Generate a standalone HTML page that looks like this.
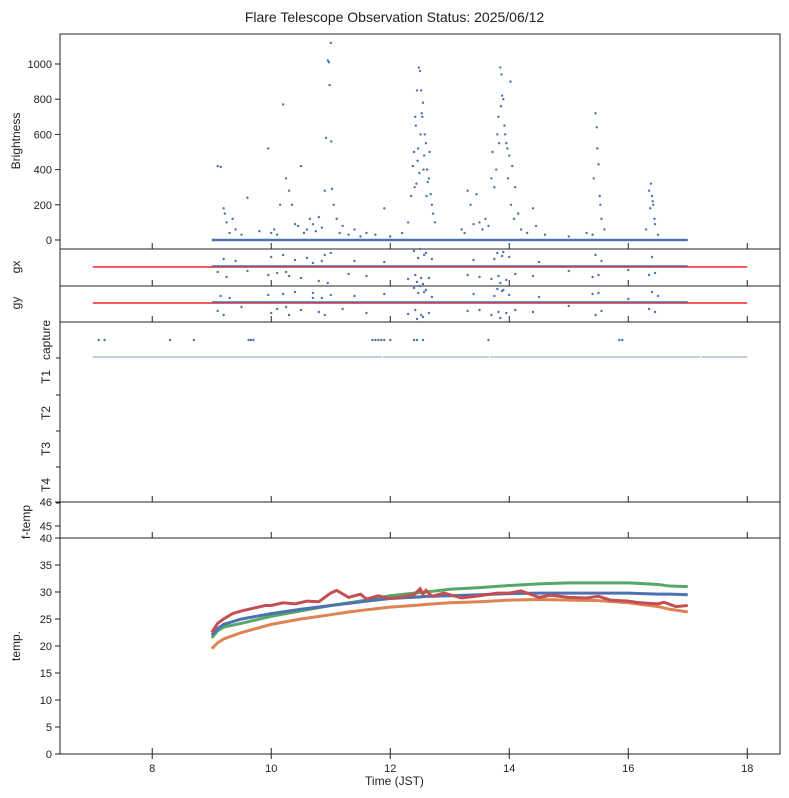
<!DOCTYPE html>
<html><head><meta charset="utf-8"><style>
body{margin:0;background:#fff;}
svg{display:block;font-family:"Liberation Sans",sans-serif;}
</style></head><body>
<svg id="c" width="789" height="798"></svg>
<script>
const NS="http://www.w3.org/2000/svg";
// ---- data ----
const xTicks=[8,10,12,14,16,18];
const brightTicks=[0,200,400,600,800,1000];
const tempTicks=[0,5,10,15,20,25,30,35,40];
const baseStart=9.0, baseEnd=17.0;
const brightT=[9.1,9.15,9.2,9.22,9.25,9.3,9.35,9.4,9.6,9.95,10.0,10.15,10.2,10.25,10.3,10.35,10.4,10.5,10.6,10.7,10.8,10.9,10.92,10.95,10.97,11.0,10.98,11.01,11.02,11.05,11.1,11.2,11.4,11.6,11.9,12.3,12.35,12.38,12.4,12.42,12.45,12.48,12.5,12.52,12.55,12.58,12.6,12.62,12.65,12.7,12.75,12.41,12.46,12.51,12.56,12.61,12.66,12.44,12.49,12.54,13.3,13.35,13.45,13.5,13.6,13.7,13.72,13.75,13.8,13.85,13.87,13.9,13.92,13.95,14.0,14.02,14.05,14.1,14.15,13.82,13.88,13.97,14.4,14.45,15.4,15.45,15.47,15.5,15.52,15.55,15.6,16.35,16.38,16.4,16.42,16.45,16.5,
9.5,9.8,10.05,10.1,10.45,10.55,10.65,10.75,10.85,11.15,11.3,11.5,11.75,12.0,12.2,12.43,12.47,12.53,12.57,12.63,12.68,12.72,13.2,13.25,13.4,13.55,13.65,13.78,13.83,13.86,13.93,13.98,14.03,14.08,14.2,14.3,14.6,15.0,15.3,15.42,15.48,15.53,16.3,16.37,16.41,16.44];
const brightV=[420,415,180,150,100,40,120,60,240,520,40,200,770,350,280,200,90,420,60,90,130,280,580,1020,1010,1120,880,560,290,200,120,80,60,40,180,100,250,420,500,700,850,980,960,850,780,600,550,400,350,200,100,300,450,600,400,250,500,320,380,700,280,200,260,100,120,350,500,300,600,980,940,800,650,550,480,900,420,300,150,700,820,520,180,80,30,720,640,430,250,120,60,280,320,250,200,90,30,
30,50,60,30,80,40,120,50,70,40,30,20,30,20,40,650,520,720,480,330,260,150,60,40,90,60,80,400,550,760,600,350,200,120,60,40,30,20,40,350,520,200,60,180,220,120];
const gxT=[9.1,9.2,9.25,9.4,9.6,9.95,10.0,10.1,10.2,10.3,10.4,10.5,10.6,10.8,10.9,10.95,11.0,11.3,11.4,11.6,11.9,12.3,12.4,12.45,12.5,12.55,12.6,12.65,12.7,13.3,13.4,13.5,13.7,13.8,13.85,13.9,13.95,14.0,14.1,14.4,14.5,15.0,15.4,15.45,15.5,15.55,16.0,16.35,16.4,16.45,10.85,12.42,12.47,12.52,12.57,13.75,13.82,13.88,10.25,10.7];
const gxV=[5,-8,10,-6,4,8,-10,6,-12,9,-7,11,-9,14,-12,16,-14,7,-6,9,-5,12,-16,15,-18,17,-14,11,-8,8,-7,10,12,-14,16,-15,13,-10,7,9,-5,4,10,-12,8,-6,3,8,-10,6,-6,8,-9,11,-12,-8,9,-11,5,-4];
const gyT=[9.1,9.15,9.2,9.3,9.5,9.95,10.0,10.1,10.2,10.3,10.4,10.5,10.7,10.8,10.9,11.0,11.2,11.4,11.6,11.9,12.3,12.4,12.45,12.5,12.55,12.6,12.65,12.7,13.3,13.4,13.5,13.7,13.8,13.85,13.9,13.95,14.0,14.1,14.4,14.5,15.0,15.4,15.45,15.5,15.55,16.0,16.35,16.4,16.45,16.5,10.85,12.42,12.47,12.52,12.57,13.75,13.82,13.88,10.25,10.7];
const gyV=[8,-7,12,-5,4,-8,10,6,-9,12,-11,7,-10,9,12,-8,6,-7,10,-9,11,-15,16,-17,14,-13,10,-6,8,-9,7,12,-14,15,-13,10,-8,7,9,-6,3,-9,12,-10,8,-4,6,-11,9,-7,-5,7,-10,12,-11,-7,9,-12,4,-5];
const capT=[7.1,7.2,8.3,8.7,9.62,9.66,9.7,11.7,11.75,11.8,11.85,11.9,12.0,12.4,12.45,12.55,13.65,15.85,15.9];
const capSegStart=[7.0,11.88,13.68,17.23];
const capSegEnd=[11.86,13.66,17.21,18.0];
const tempTime=[9.0,9.1,9.2,9.5,10,10.5,11,11.3,11.6,12,12.5,12.6,13,13.5,14,14.5,15,15.5,16,16.5,16.7,17.0];
const tBlue=[22,23.2,24,25,26,26.8,27.5,27.9,28.3,28.8,29.1,29.2,29.3,29.5,29.7,29.8,29.8,29.8,29.8,29.6,29.6,29.5];
const tGreen=[21.5,22.8,23.5,24.2,25.5,26.5,27.5,28,28.5,29.3,29.9,30,30.5,30.8,31.2,31.5,31.7,31.7,31.7,31.4,31.1,31];
const tOrange=[19.5,20.6,21.3,22.5,24,25,25.8,26.3,26.7,27.2,27.6,27.7,28,28.2,28.5,28.6,28.5,28.4,28,27.3,26.8,26.3];
const tRedT=[9.0,9.1,9.2,9.35,9.5,9.7,9.9,10,10.2,10.4,10.6,10.8,11,11.1,11.3,11.5,11.6,11.8,12,12.2,12.4,12.5,12.55,12.6,12.7,12.9,13,13.2,13.5,13.8,14,14.2,14.4,14.5,14.7,15,15.3,15.5,15.7,16,16.2,16.5,16.6,16.8,17.0];
const tRed=[22.5,24.2,25,26,26.5,27,27.5,27.5,28,27.8,28.3,28.2,29.8,30.3,29,29.6,28.7,29.3,28.8,29.1,29.5,30.6,29.6,30.3,29.2,29.8,29.5,28.9,29.3,29.8,29.8,30.2,29.4,29,29.4,29,28.9,29.2,28.5,28.3,28.0,27.8,28.1,27.3,27.5];
// ---- layout ----
const svg=document.getElementById('c');
const L=60,R=780,xmin=6.45,xmax=18.55;
const X=t=>L+(t-xmin)/(xmax-xmin)*(R-L);
function el(tag,a,p){const e=document.createElementNS(NS,tag);for(const k in a)e.setAttribute(k,a[k]);(p||svg).appendChild(e);return e;}
function txt(s,x,y,o){const e=el('text',Object.assign({x:x,y:y,'font-size':11,fill:'#222'},o||{}));e.textContent=s;return e;}
const blue='#4c72b0';
function panel(name,top,bot){
  const g=el('g',{});
  
  
  el('rect',{x:L,y:top,width:R-L,height:bot-top,fill:'none',stroke:'#222','stroke-width':1},g);
  xTicks.forEach(t=>{el('line',{x1:X(t),x2:X(t),y1:bot,y2:bot-6,stroke:'#222'},g);});
  return g;
}
function ylabel(s,y,x){const e=txt(s,x||20,y,{transform:`rotate(-90 ${x||20} ${y})`,'text-anchor':'middle','font-size':12});return e;}
const ti=txt('Flare Telescope Observation Status: 2025/06/12',394.5,22,{'text-anchor':'middle','font-size':14});


// Brightness
const gB=panel('brightness-panel',34,249);
const YB=v=>240-v*0.176;
brightTicks.forEach(v=>{el('line',{x1:L,x2:L-5,y1:YB(v),y2:YB(v),stroke:'#222'},gB);txt(String(v),L-8,YB(v)+4,{'text-anchor':'end'});});
ylabel('Brightness',141,20);
el('line',{x1:X(baseStart),x2:X(baseEnd),y1:YB(0),y2:YB(0),stroke:blue,'stroke-width':2.5},gB);
brightT.forEach((t,i)=>{const c=el('circle',{cx:X(t),cy:YB(brightV[i]),r:1.2,fill:blue},gB);});
// gx
const gX=panel('gx-panel',249,286);
ylabel('gx',267,20);
el('line',{x1:X(7),x2:X(18),y1:267,y2:267,stroke:'#ff2020','stroke-width':1.5},gX);
el('line',{x1:X(baseStart),x2:X(baseEnd),y1:266,y2:266,stroke:blue,'stroke-width':1.5},gX);
gxT.forEach((t,i)=>{const c=el('circle',{cx:X(t),cy:267+gxV[i],r:1.2,fill:blue},gX);});
// gy
const gY=panel('gy-panel',286,322);
ylabel('gy',303,20);
el('line',{x1:X(7),x2:X(18),y1:303,y2:303,stroke:'#ff2020','stroke-width':1.5},gY);
el('line',{x1:X(baseStart),x2:X(baseEnd),y1:302,y2:302,stroke:blue,'stroke-width':1.5},gY);
gyT.forEach((t,i)=>{const c=el('circle',{cx:X(t),cy:303+gyV[i],r:1.2,fill:blue},gY);});
// capture
const gC=panel('capture-panel',322,502);
[['capture',340],['T1',377],['T2',413],['T3',449],['T4',485]].forEach(a=>{ylabel(a[0],a[1],50);el('line',{x1:L,x2:L-4,y1:a[1]+18,y2:a[1]+18,stroke:'#222'},gC);});
capT.forEach(t=>{const c=el('circle',{cx:X(t),cy:340,r:1.2,fill:blue},gC);});
capSegStart.forEach((s,i)=>{const l=el('line',{x1:X(s),x2:X(capSegEnd[i]),y1:357,y2:357,stroke:'#6a7fa6','stroke-width':0.8},gC);});
// f-temp
const gF=panel('ftemp-panel',502,538);
ylabel('f-temp',522,30);
[['46',502],['45',526]].forEach(a=>{el('line',{x1:L,x2:L-5,y1:a[1],y2:a[1],stroke:'#222'},gF);txt(a[0],L-8,a[1]+4,{'text-anchor':'end'});});
// temp
const gT=panel('temp-panel',538,754);
const YT=v=>754-v*5.4;
tempTicks.forEach(v=>{el('line',{x1:L,x2:L-5,y1:YT(v),y2:YT(v),stroke:'#222'},gT);txt(String(v),L-8,YT(v)+4,{'text-anchor':'end'});});
ylabel('temp.',646,20);
[[tempTime,tGreen,'#55a868','temp-green'],[tempTime,tBlue,blue,'temp-blue'],[tempTime,tOrange,'#dd8452','temp-orange'],[tRedT,tRed,'#c44e52','temp-red']].forEach(s=>{
  const p=el('polyline',{points:s[0].map((t,i)=>X(t)+','+YT(s[1][i])).join(' '),fill:'none',stroke:s[2],'stroke-width':3},gT);
  
  
});
xTicks.forEach(t=>{el('line',{x1:X(t),x2:X(t),y1:754,y2:759,stroke:'#222'});txt(String(t),X(t),772,{'text-anchor':'middle'});});
const xl=txt('Time (JST)',394.5,785,{'text-anchor':'middle','font-size':12});


</script>
</body></html>
